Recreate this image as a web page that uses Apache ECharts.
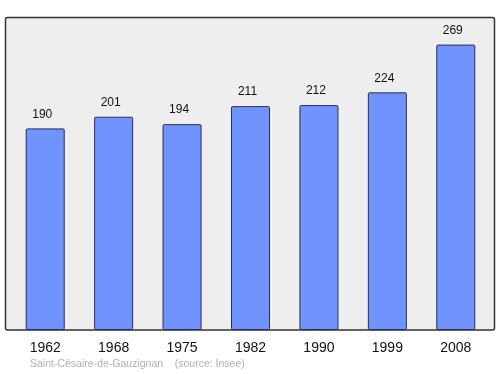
<!DOCTYPE html>
<html><head><meta charset="utf-8">
<script src="https://cdn.jsdelivr.net/npm/echarts@6/dist/echarts.min.js"></script>
<style>html,body{margin:0;padding:0;background:#fff}#c{width:500px;height:374px}</style>
</head><body><div id="c"></div>
<script>
const years = ['1962','1968','1975','1982','1990','1999','2008'];
const population = [190,201,194,211,212,224,269];
const footer = 'Saint-Césaire-de-Gauzignan    (source: Insee)';

const chart = echarts.init(document.getElementById('c'), null, {renderer:'canvas'});
chart.setOption({
  animation:false,
  graphic:[
    {type:'rect', z:-10, shape:{x:5.5,y:17.5,width:489,height:312.5,r:2}, style:{fill:'#eeeeee', stroke:'#333', lineWidth:1.5}},
    {type:'text', left:30, top:359, style:{text:footer, fill:'#b0b0b0', font:'10.5px "Liberation Sans", Arial, sans-serif'}}
  ],
  grid:{left:11, right:10, top:17, bottom:44},
  xAxis:{type:'category', data:years, axisLine:{show:false}, axisTick:{show:false},
    axisLabel:{color:'#111', fontSize:14, margin:11, fontFamily:'"Liberation Sans", Arial, sans-serif'}},
  yAxis:{type:'value', min:0, max:295, show:false, splitLine:{show:false}},
  series:[{type:'bar', data:population, barWidth:39,
    itemStyle:{color:'#7094ff', borderColor:'#2a2a55', borderWidth:1, borderRadius:1},
    label:{show:true, position:'top', distance:8, offset:[-3,0], color:'#111', fontSize:12, fontFamily:'"Liberation Sans", Arial, sans-serif'}}]
});
</script></body></html>
